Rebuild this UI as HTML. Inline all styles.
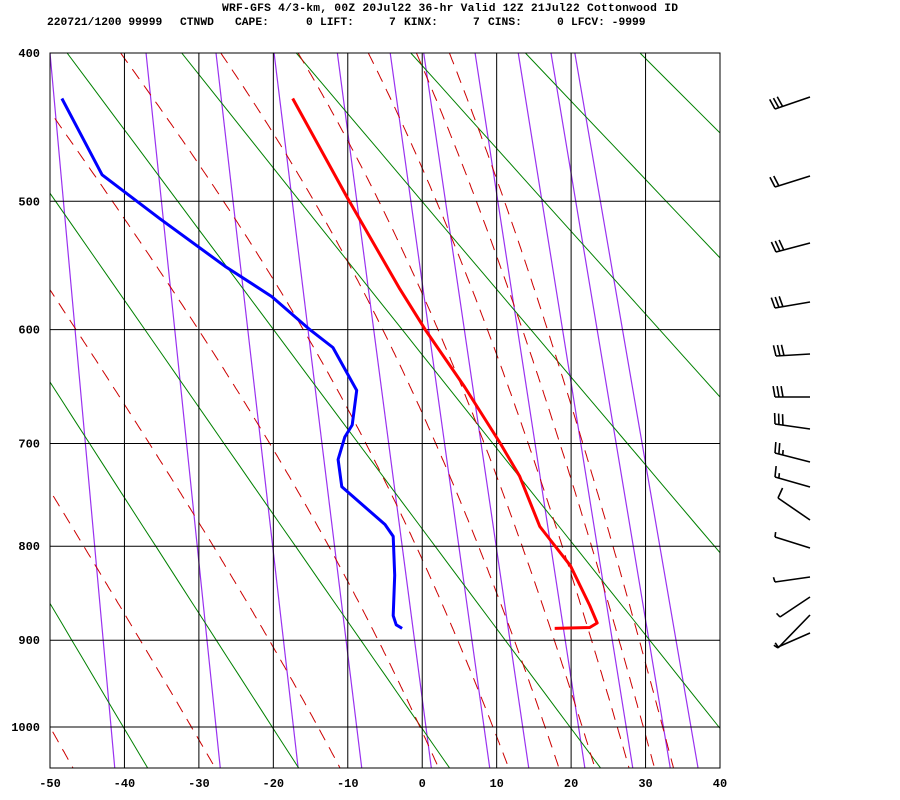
<!DOCTYPE html>
<html><head><meta charset="utf-8"><style>
html,body{margin:0;padding:0;background:#fff;}
svg{display:block;}
text{font-family:"Liberation Mono",monospace;font-weight:bold;fill:#000;}
</style></head><body>
<svg id="chart" width="900" height="800" viewBox="0 0 900 800" xmlns="http://www.w3.org/2000/svg">
<defs><clipPath id="plotclip"><rect x="50" y="53" width="670" height="715"/></clipPath></defs>
<g font-size="11.3">
<text x="222" y="11" textLength="456">WRF-GFS 4/3-km, 00Z 20Jul22 36-hr Valid 12Z 21Jul22 Cottonwood ID</text>
<text x="47" y="25">220721/1200 99999</text>
<text x="180" y="25">CTNWD</text>
<text x="235" y="25">CAPE:</text>
<text x="306" y="25">0</text>
<text x="320" y="25">LIFT:</text>
<text x="389" y="25">7</text>
<text x="404" y="25">KINX:</text>
<text x="473" y="25">7</text>
<text x="488" y="25">CINS:</text>
<text x="557" y="25">0</text>
<text x="571" y="25">LFCV: -9999</text>
</g>
<g id="bg" clip-path="url(#plotclip)"></g>
<g id="grid"></g>
<g id="series" clip-path="url(#plotclip)"></g>
<g id="axes"></g>
<g id="barbs"></g>
</svg>
<script>
// ---- data ----
const tempP = [429,497,567,600,649,700,731,780,820,862,881,886,887];
const tempT = [-17.4,-10.1,-3.0,0.4,5.7,10.5,13.1,15.8,19.9,22.5,23.5,22.5,17.8];
const dewP = [429,481,513,549,573,600,615,652,683,694,715,741,778,790,830,873,883,887];
const dewT = [-48.4,-43.0,-35.2,-26.5,-20.2,-15.1,-12.0,-8.8,-9.4,-10.4,-11.3,-10.8,-5.0,-3.9,-3.7,-3.9,-3.5,-2.7];
const pressureTicks = [400,500,600,700,800,900,1000];
const tempTicks = [-50,-40,-30,-20,-10,0,10,20,30,40];
const dryTheta = [213,233,253,273,293,313,333,353,373,393,413,433,453];
const moistT1000 = [-50,-31,-14,-0.3,9.5,16.5,21.5,26.2,29.7,32.3];
const mixTop = [-50,-37.1,-27.7,-19.9,-11.4,-4.3,0.2,7.1,12.9,17.3,20.5];
const mixBottom = [-41.8,-27.7,-17.3,-8.8,0.5,8.3,13.5,21.0,27.4,32.4,36.1];
const barbTipY = [97,176,243,302,354,397,429,462,487,520,548,577,597,615,633];
const barbDx = [-35,-35,-34,-35,-34,-35,-35,-35,-35,-32,-35,-35,-30,-32,-32];
const barbDy = [12,11,9,6,2,0,-5,-9,-10,-22,-11,5,20,33,14];
const barbFeathers = [3,2,3,3,3,3,3,2.5,1.5,1,0.5,0.5,0.5,0.5,0.5];

// ---- scales ----
const K = 0.286, P0 = Math.pow(400,K), P1 = Math.pow(1000,K);
function xOf(T){return 50 + (T+50)*670/90;}
function yOf(p){return 53 + 674*(Math.pow(p,K)-P0)/(P1-P0);}
const NS='http://www.w3.org/2000/svg';
function mk(tag, attrs, parent){const e=document.createElementNS(NS,tag);for(const k in attrs)e.setAttribute(k,attrs[k]);parent.appendChild(e);return e;}
const bg=document.getElementById('bg'), grid=document.getElementById('grid'), series=document.getElementById('series'), axes=document.getElementById('axes'), barbs=document.getElementById('barbs');

// mixing-ratio lines (purple)
for(let i=0;i<mixTop.length;i++){
  const x0=xOf(mixTop[i]), x1=xOf(mixBottom[i]);
  const y0=yOf(400), y1=yOf(1000);
  const xb=x0+(x1-x0)*(768-y0)/(y1-y0);
  const l=mk('line',{x1:x0,y1:y0,x2:xb,y2:768,stroke:'#9a32f0','stroke-width':1.2},bg);
  
  
}
// dry adiabats (green)
for(const th of dryTheta){
  const pts=[];
  for(let p=400;p<=1060;p+=20){pts.push(xOf(th*Math.pow(p/1000,K)-273.15).toFixed(1)+','+yOf(p).toFixed(1));}
  const l=mk('polyline',{points:pts.join(' '),fill:'none',stroke:'#008000','stroke-width':1},bg);
  
  
}
// moist adiabats (red dashed)
function dTdp(T,p){
  const Tc=T-273.15, es=6.112*Math.exp(17.67*Tc/(Tc+243.5)), rs=0.622*es/(p-es);
  const Rd=287, Cp=1005, L=2.5e6;
  return (Rd*T+L*rs)/(p*(Cp+L*L*rs*0.622/(Rd*T*T)));
}
for(const t0 of moistT1000){
  let T=t0+273.15, up=[[1000,T]];
  for(let p=1000;p>400;p-=2){T-=dTdp(T,p)*2;up.push([p-2,T]);}
  T=t0+273.15; let down=[];
  for(let p=1000;p<1060;p+=2){T+=dTdp(T,p)*2;down.push([p+2,T]);}
  const all=up.reverse().concat(down);
  const pts=all.map(a=>xOf(a[1]-273.15).toFixed(1)+','+yOf(a[0]).toFixed(1));
  const l=mk('polyline',{points:pts.join(' '),fill:'none',stroke:'#cc0000','stroke-width':1,'stroke-dasharray':'12,8'},bg);
  
  
}
// grid
for(const p of pressureTicks){
  const y=yOf(p);
  const l=mk('line',{x1:50,y1:y,x2:720,y2:y,stroke:'#000','stroke-width':1},grid);
  
  
  const t=mk('text',{x:40,y:y+4,'text-anchor':'end','font-size':12},axes);
  t.textContent=p;
  
  
}
for(const T of tempTicks){
  const x=xOf(T);
  const l=mk('line',{x1:x,y1:53,x2:x,y2:768,stroke:'#000','stroke-width':1},grid);
  
  
  const t=mk('text',{x:x,y:787,'text-anchor':'middle','font-size':12},axes);
  t.textContent=T;
  
  
}
const frame=mk('rect',{x:50,y:53,width:670,height:715,fill:'none',stroke:'#000','stroke-width':1},grid);


// profiles
const tl=mk('polyline',{points:tempP.map((p,i)=>xOf(tempT[i]).toFixed(1)+','+yOf(p).toFixed(1)).join(' '),fill:'none',stroke:'#ff0000','stroke-width':3,'stroke-linejoin':'round'},series);


const dl=mk('polyline',{points:dewP.map((p,i)=>xOf(dewT[i]).toFixed(1)+','+yOf(p).toFixed(1)).join(' '),fill:'none',stroke:'#0000ff','stroke-width':3,'stroke-linejoin':'round'},series);


// wind barbs
for(let i=0;i<barbTipY.length;i++){
  const tx=810, ty=barbTipY[i], ex=tx+barbDx[i], ey=ty+barbDy[i];
  const g=mk('g',{},barbs);
  
  
  mk('line',{x1:tx,y1:ty,x2:ex,y2:ey,stroke:'#000','stroke-width':1.6},g);
  const len=Math.hypot(barbDx[i],barbDy[i]), ux=barbDx[i]/len, uy=barbDy[i]/len;
  const ang=Math.atan2(uy,ux)+80*Math.PI/180, fx=Math.cos(ang), fy=Math.sin(ang);
  let n=barbFeathers[i], k=0;
  while(n>0){
    const fl=n>=1?11:5;
    const bx=ex-ux*4*k, by=ey-uy*4*k;
    mk('line',{x1:bx,y1:by,x2:bx+fx*fl,y2:by+fy*fl,stroke:'#000','stroke-width':1.6},g);
    n-=1;k++;
  }
}
</script>
</body></html>
